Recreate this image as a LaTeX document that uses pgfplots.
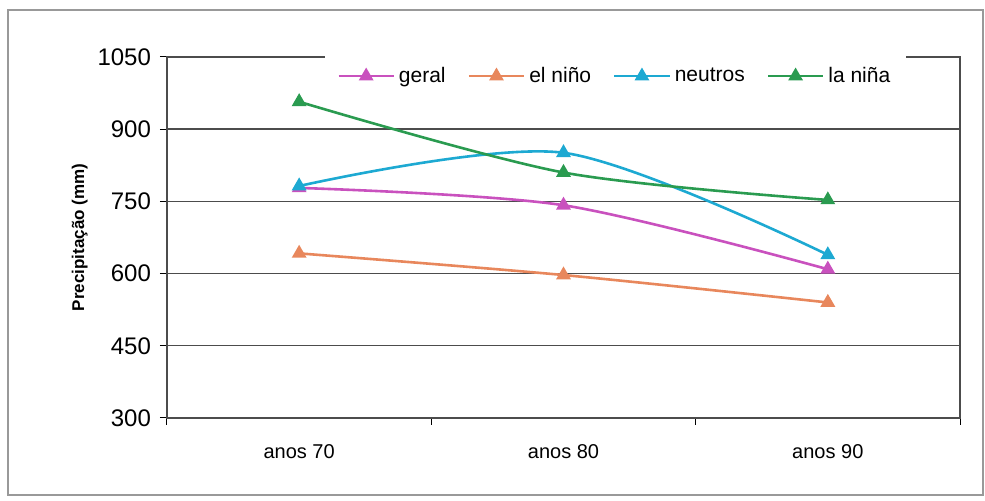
\documentclass[border=0pt]{standalone}
\usepackage{pgfplots}
\pgfplotsset{compat=1.18}
\usepackage{fontspec}
\setmainfont{Liberation Sans}
\definecolor{cgeral}{HTML}{C951BE}
\definecolor{cnino}{HTML}{E8875C}
\definecolor{cneut}{HTML}{1DA9D2}
\definecolor{cnina}{HTML}{2A9B50}
\begin{document}
\begin{tikzpicture}
\useasboundingbox (0,0) rectangle (492.5pt,250.5pt);
\draw[gray!80, line width=0.6pt] (4pt,3pt) rectangle (491.5pt,245.5pt);
\begin{axis}[
  at={(83.5pt,41.5pt)}, anchor=south west,
  scale only axis, width=396.5pt, height=180.5pt,
  xmin=-0.5, xmax=2.5, ymin=300, ymax=1050,
  ytick={300,450,600,750,900,1050},
  /pgf/number format/1000 sep={},
  xtick={-0.5,0.5,1.5,2.5},
  x tick label as interval,
  xticklabels={anos 70, anos 80, anos 90},
  xtick pos=bottom, ytick pos=left,
  tick align=outside, major tick length=3.5pt,
  tick style={black, line width=0.5pt},
  ymajorgrids,
  grid style={black!70, line width=0.7pt},
  axis line style={black!70, line width=0.7pt},
  /pgf/number format/assume math mode=true,
  yticklabel style={font=\fontsize{12}{14}\selectfont, xshift=-1pt},
  xticklabel style={font=\fontsize{10}{12}\selectfont, yshift=-6pt},
  ylabel={Precipitação (mm)},
  ylabel style={font=\fontsize{8.5}{10}\selectfont\bfseries, at={(axis description cs:-0.11,0.5)}, anchor=center},
  legend columns=4,
  legend style={at={(axis description cs:0.566,0.868)}, anchor=south,
    fill=white, draw=none, inner xsep=6pt, inner ysep=7.5pt,
    font=\fontsize{10.5}{12}\selectfont,
    /tikz/every even column/.append style={column sep=9pt}},
  legend cell align=left,
  legend image code/.code={\draw[mark repeat=2,mark phase=2,#1] plot coordinates {(0pt,0pt) (13.75pt,0pt) (27.5pt,0pt)};},
  every axis plot/.append style={line width=1.3pt, smooth, mark=triangle*, mark size=3pt},
]
\addplot[cgeral, mark options={fill=cgeral}] coordinates {(0,778) (1,742) (2,609)};
\addlegendentry{geral}
\addplot[cnino, mark options={fill=cnino}] coordinates {(0,642) (1,597) (2,540)};
\addlegendentry{el niño}
\addplot[cneut, mark options={fill=cneut}] coordinates {(0,782) (1,851) (2,639)};
\addlegendentry{neutros}
\addplot[cnina, mark options={fill=cnina}] coordinates {(0,957) (1,810) (2,753)};
\addlegendentry{la niña}
\end{axis}
\end{tikzpicture}
\end{document}
